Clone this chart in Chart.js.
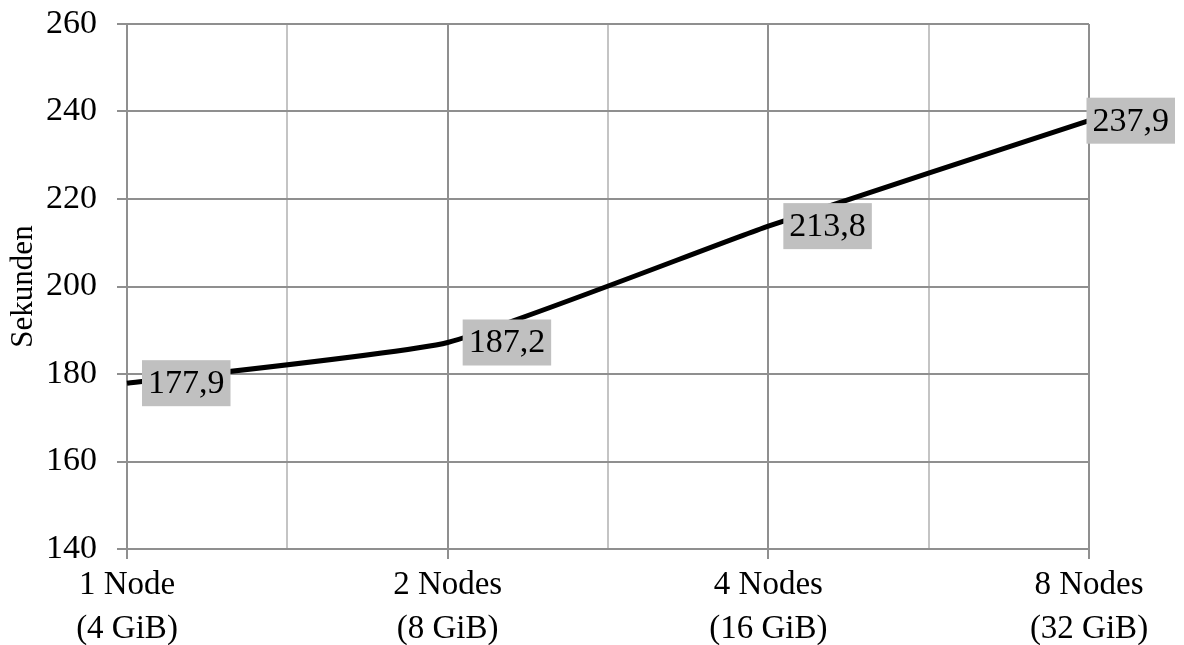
<!DOCTYPE html>
<html>
<head>
<meta charset="utf-8">
<script src="https://cdn.jsdelivr.net/npm/chart.js@4/dist/chart.umd.min.js"></script>
<style>
html,body{margin:0;padding:0;background:#fff;}
#wrap{width:1184px;height:645px;position:relative;}
</style>
</head>
<body>
<div id="wrap"><canvas id="c" width="1184" height="645"></canvas></div>
<script>
const categories = [["1 Node","(4 GiB)"],["2 Nodes","(8 GiB)"],["4 Nodes","(16 GiB)"],["8 Nodes","(32 GiB)"]];
const values = [177.9, 187.2, 213.8, 237.9];
const valueLabels = ["177,9","187,2","213,8","237,9"];
const yTicks = [140,160,180,200,220,240,260];
const yTitle = "Sekunden";

const FONT = "'Liberation Serif', 'Times New Roman', serif";
const MAJOR = "#8f8f8f";
const MINOR = "#c4c4c4";

const labelPlugin = {
  id: 'valueBoxes',
  afterDatasetsDraw(chart) {
    const ctx = chart.ctx;
    const meta = chart.getDatasetMeta(0);
    ctx.save();
    ctx.font = "34px " + FONT;
    ctx.textBaseline = 'middle';
    ctx.textAlign = 'left';
    meta.data.forEach((pt, i) => {
      const txt = valueLabels[i];
      const w = ctx.measureText(txt).width + 12;
      const h = 46;
      let bx = pt.x + 15;
      if (bx + w > chart.width - 9) bx = chart.width - 9 - w;
      const by = pt.y - h / 2;
      ctx.fillStyle = '#c0c0c0';
      ctx.fillRect(bx, by, w, h);
      ctx.fillStyle = '#000';
      ctx.fillText(txt, bx + 6, pt.y + 1);
    });
    ctx.restore();
  }
};

new Chart(document.getElementById('c'), {
  type: 'line',
  data: {
    datasets: [{
      data: values.map((v, i) => ({x: i, y: v})),
      borderColor: '#000',
      borderWidth: 5,
      pointRadius: 0,
      tension: 0.15,
      fill: false,
      clip: false
    }]
  },
  options: {
    responsive: false,
    animation: false,
    devicePixelRatio: 1,
    layout: { padding: { top: 24, right: 95, left: 0, bottom: 0 } },
    plugins: { legend: { display: false }, tooltip: { enabled: false } },
    scales: {
      x: {
        type: 'linear',
        min: 0, max: categories.length - 1,
        afterBuildTicks(s) {
          const t = [];
          for (let v = 0; v <= categories.length - 1 + 1e-9; v += 0.5) t.push({value: v});
          s.ticks = t;
        },
        afterFit(s) { s.height = 96; s.paddingLeft = 0; s.paddingRight = 0; },
        grid: {
          color: (c) => (c.tick && Number.isInteger(c.tick.value)) ? MAJOR : MINOR,
          tickColor: (c) => (c.tick && Number.isInteger(c.tick.value)) ? MAJOR : 'rgba(0,0,0,0)',
          lineWidth: 2,
          tickLength: 10
        },
        border: { color: MAJOR, width: 2 },
        ticks: {
          autoSkip: false,
          maxRotation: 0,
          padding: 4,
          color: '#000',
          font: { family: FONT, size: 33, lineHeight: 1.34 },
          callback: (v) => Number.isInteger(v) ? categories[v] : ''
        }
      },
      y: {
        min: yTicks[0], max: yTicks[yTicks.length - 1],
        afterBuildTicks(s) { s.ticks = yTicks.map(v => ({value: v})); },
        afterFit(s) { s.width = 127; s.paddingTop = 0; s.paddingBottom = 0; },
        grid: { color: MAJOR, lineWidth: 2, tickLength: 10, tickColor: MAJOR },
        border: { color: MAJOR, width: 2 },
        ticks: {
          padding: 20,
          color: '#000',
          font: { family: FONT, size: 34 }
        },
        title: {
          display: true,
          text: yTitle,
          color: '#000',
          font: { family: FONT, size: 31 },
          padding: { top: 5, bottom: 0 }
        }
      }
    }
  },
  plugins: [labelPlugin]
});
</script>
</body>
</html>
